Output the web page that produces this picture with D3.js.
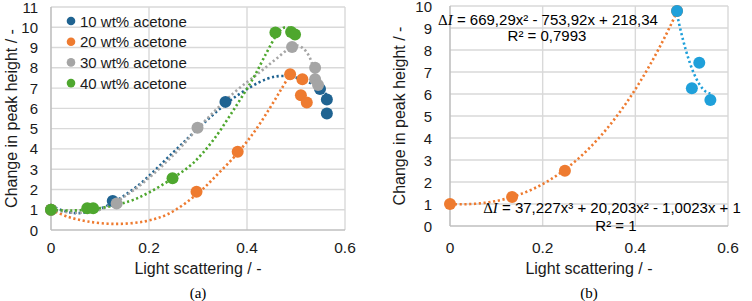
<!DOCTYPE html>
<html>
<head>
<meta charset="utf-8">
<script src="https://cdn.jsdelivr.net/npm/d3@7/dist/d3.min.js"></script>
<style>
  body { margin: 0; background: #fff; }
  svg { display: block; font-family: "Liberation Sans", Arial, sans-serif; }
</style>
</head>
<body>
<svg id="chart" width="752" height="301"></svg>
<script>
// tick labels
var xTicks = [0, 0.2, 0.4, 0.6];
var yTicksA = [0, 1, 2, 3, 4, 5, 6, 7, 8, 9, 10, 11];
var yTicksB = [0, 1, 2, 3, 4, 5, 6, 7, 8, 9, 10];

// panel (a) series
var namesA = ["10 wt% acetone", "20 wt% acetone", "30 wt% acetone", "40 wt% acetone"];
var colorsA = ["#1f6391", "#ee7b30", "#a5a5a5", "#4ea72e"];
var x10 = [0, 0.126, 0.356, 0.549, 0.563, 0.563];
var y10 = [1, 1.43, 6.32, 6.95, 6.44, 5.75];
var x20 = [0, 0.297, 0.381, 0.488, 0.513, 0.51, 0.522];
var y20 = [1, 1.89, 3.86, 7.68, 7.44, 6.65, 6.29];
var x30 = [0, 0.134, 0.299, 0.492, 0.539, 0.539, 0.545];
var y30 = [1, 1.31, 5.04, 9.03, 8.0, 7.44, 7.15];
var x40 = [0, 0.074, 0.086, 0.248, 0.458, 0.49, 0.498];
var y40 = [1, 1.07, 1.07, 2.55, 9.74, 9.77, 9.64];

// panel (a) trendlines
var t10x = [0, 0.045, 0.1, 0.17, 0.25, 0.304, 0.372, 0.44, 0.474, 0.51, 0.549, 0.563];
var t10y = [1.2, 0.84, 1.05, 2.05, 3.84, 5.1, 6.5, 7.45, 7.6, 7.45, 6.97, 6.65];
var t20x = [0, 0.035, 0.075, 0.13, 0.19, 0.24, 0.297, 0.34, 0.381, 0.415, 0.445, 0.47, 0.49];
var t20y = [1, 0.65, 0.42, 0.3, 0.42, 0.8, 1.75, 2.75, 3.8, 4.85, 5.95, 6.95, 7.75];
var t30x = [0, 0.05, 0.1, 0.168, 0.25, 0.299, 0.372, 0.427, 0.46, 0.49, 0.503, 0.515, 0.525, 0.533, 0.546];
var t30y = [1, 0.85, 1.0, 1.95, 3.7, 5.0, 6.74, 7.8, 8.45, 9.02, 9.1, 8.95, 8.65, 8.2, 7.1];
var t40x = [0, 0.04, 0.1, 0.16, 0.2, 0.248, 0.29, 0.331, 0.372, 0.413, 0.44, 0.46, 0.475, 0.488, 0.498];
var t40y = [1, 0.96, 1.08, 1.42, 1.85, 2.55, 3.3, 4.43, 5.9, 7.5, 8.75, 9.6, 9.98, 9.95, 9.65];

// panel (b) series
var xOrangeB = [0, 0.134, 0.248, 0.49];
var yOrangeB = [1, 1.32, 2.51, 9.77];
var xBlueB = [0.49, 0.522, 0.538, 0.562];
var yBlueB = [9.77, 6.26, 7.42, 5.73];
// trendline coefficients printed on the chart: c0 + c1 x + c2 x^2 + c3 x^3
var coefOrangeB = [1, -1.0023, 20.203, 37.227];
var coefBlueB = [218.34, -753.92, 669.29];
var colorsB = ["#ee7b30", "#1fa0da"];

var svg = d3.select("#chart");

function polyval(c, xv) {
    var s = 0;
    for (var i = c.length - 1; i >= 0; i--) s = s * xv + c[i];
    return s;
}

// grid, axes and tick labels for one panel
function drawFrame(x, y, yTicks, labelEnd, ylabelX, title, caption) {
    var g = svg.append("g");
    var x0 = x.range()[0], x1 = x.range()[1];
    var y0 = y.range()[0], y1 = y.range()[1];

    g.selectAll(".hgrid").data(yTicks.slice(1)).enter().append("line")
        .attr("x1", x0).attr("x2", x1)
        .attr("y1", function (d) { return y(d); })
        .attr("y2", function (d) { return y(d); })
        .style("stroke", "#d9d9d9").style("stroke-width", 1.4);

    g.selectAll(".vgrid").data(xTicks.slice(1)).enter().append("line")
        .attr("x1", function (d) { return x(d); })
        .attr("x2", function (d) { return x(d); })
        .attr("y1", y0).attr("y2", y1)
        .style("stroke", "#d9d9d9").style("stroke-width", 1.4);

    // axis lines
    g.append("line").attr("x1", x0).attr("x2", x0).attr("y1", y0).attr("y2", y1)
        .style("stroke", "#bfbfbf").style("stroke-width", 1.6);
    g.append("line").attr("x1", x0).attr("x2", x1).attr("y1", y0).attr("y2", y0)
        .style("stroke", "#bfbfbf").style("stroke-width", 1.6);

    g.selectAll(".ylab").data(yTicks).enter().append("text")
        .attr("x", labelEnd)
        .attr("y", function (d) { return y(d) + 5.5; })
        .style("text-anchor", "end")
        .style("font-size", "15px")
        .style("fill", "#1a1a1a")
        .text(function (d) { return d; });

    g.selectAll(".xlab").data(xTicks).enter().append("text")
        .attr("x", function (d) { return x(d); })
        .attr("y", 253)
        .style("text-anchor", "middle")
        .style("font-size", "15.5px")
        .style("fill", "#1a1a1a")
        .text(function (d) { return d; });

    g.append("text")
        .attr("transform", "translate(" + ylabelX + "," + ((y0 + y1) / 2) + ") rotate(-90)")
        .style("text-anchor", "middle")
        .style("font-size", "16px")
        .style("fill", "#1a1a1a")
        .text("Change in peak height / -");

    g.append("text")
        .attr("x", (x0 + x1) / 2)
        .attr("y", 274)
        .style("text-anchor", "middle")
        .style("font-size", "16px")
        .style("fill", "#1a1a1a")
        .text(title);

    g.append("text")
        .attr("x", (x0 + x1) / 2)
        .attr("y", 298)
        .style("text-anchor", "middle")
        .style("font-family", "'Liberation Serif', 'Times New Roman', serif")
        .style("font-size", "15px")
        .style("fill", "#000")
        .text(caption);
}

function dotted(path, color) {
    path.style("fill", "none")
        .style("stroke", color)
        .style("stroke-width", 2.6)
        .style("stroke-dasharray", "2.2 2.6");
}

// trendline through readings from the picture
function drawTrendPts(x, y, xs, ys, color) {
    svg.append("path")
        .datum(xs)
        .attr("d", d3.line()
            .curve(d3.curveCatmullRom.alpha(0.5))
            .x(function (d) { return x(d); })
            .y(function (d, i) { return y(ys[i]); }))
        .call(dotted, color);
}

// trendline from printed polynomial
function drawTrendPoly(x, y, coef, xmin, xmax, color) {
    var steps = d3.range(0, 101);
    svg.append("path")
        .datum(steps)
        .attr("d", d3.line()
            .x(function (i) { return x(xmin + (xmax - xmin) * i / 100); })
            .y(function (i) { return y(polyval(coef, xmin + (xmax - xmin) * i / 100)); }))
        .call(dotted, color);
}

function drawDots(x, y, xs, ys, color, r) {
    svg.append("g").selectAll("circle")
        .data(xs)
        .enter().append("circle")
        .attr("cx", function (d) { return x(d); })
        .attr("cy", function (d, i) { return y(ys[i]); })
        .attr("r", r)
        .style("fill", color);
}

// ---- panel (a)
var xA = d3.scaleLinear().domain([0, 0.6]).range([51, 345]);
var yA = d3.scaleLinear().domain([0, 11]).range([230, 7]);
drawFrame(xA, yA, yTicksA, 38, 17, "Light scattering / -", "(a)");

var txA = [t10x, t20x, t30x, t40x], tyA = [t10y, t20y, t30y, t40y];
txA.forEach(function (xs, k) {
    drawTrendPts(xA, yA, xs, tyA[k], colorsA[k]);
});
var xsA = [x10, x20, x30, x40], ysA = [y10, y20, y30, y40];
xsA.forEach(function (xs, k) {
    drawDots(xA, yA, xs, ysA[k], colorsA[k], 6);
});

// legend
var legend = svg.append("g").attr("transform", "translate(71,21)");
namesA.forEach(function (name, k) {
    legend.append("circle")
        .attr("cx", 0).attr("cy", k * 20.7)
        .attr("r", 4.3)
        .style("fill", colorsA[k]);
    legend.append("text")
        .attr("x", 9).attr("y", k * 20.7 + 5.5)
        .style("font-size", "15px")
        .style("fill", "#1a1a1a")
        .text(name);
});

// ---- panel (b)
var xB = d3.scaleLinear().domain([0, 0.6]).range([450, 728]);
var yB = d3.scaleLinear().domain([0, 10]).range([226, 6]);
drawFrame(xB, yB, yTicksB, 432, 405, "Light scattering / -", "(b)");

drawTrendPoly(xB, yB, coefOrangeB, d3.min(xOrangeB), d3.max(xOrangeB), colorsB[0]);
drawTrendPoly(xB, yB, coefBlueB, d3.min(xBlueB), d3.max(xBlueB), colorsB[1]);
drawDots(xB, yB, xOrangeB, yOrangeB, colorsB[0], 6);
drawDots(xB, yB, xBlueB, yBlueB, colorsB[1], 6);

// trendline equations
function equation(cx, cy, rest) {
    var t = svg.append("text")
        .attr("x", cx).attr("y", cy)
        .style("text-anchor", "middle")
        .style("font-size", "15px")
        .style("fill", "#000");
    t.append("tspan").style("font-family", "'Liberation Serif', 'Times New Roman', serif").text("\u0394");
    t.append("tspan").style("font-family", "'Liberation Serif', 'Times New Roman', serif")
        .style("font-style", "italic").text("I");
    t.append("tspan").text(rest);
}
equation(548, 25, " = 669,29x\u00b2 - 753,92x + 218,34");
svg.append("text").attr("x", 547).attr("y", 41)
    .style("text-anchor", "middle").style("font-size", "15px").style("fill", "#000")
    .text("R\u00b2 = 0,7993");
equation(612, 213, " = 37,227x\u00b3 + 20,203x\u00b2 - 1,0023x + 1");
svg.append("text").attr("x", 616).attr("y", 231)
    .style("text-anchor", "middle").style("font-size", "15px").style("fill", "#000")
    .text("R\u00b2 = 1");
</script>
</body>
</html>
